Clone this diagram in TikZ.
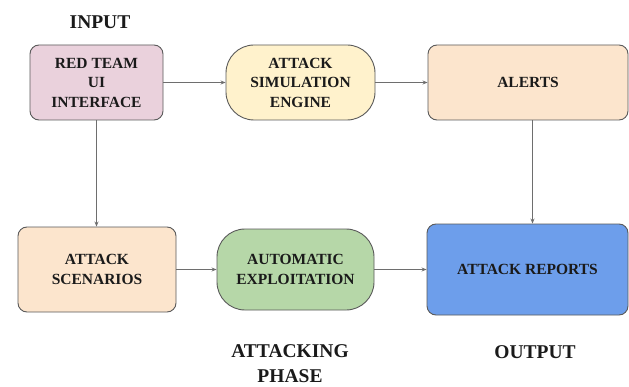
\documentclass[tikz,border=0pt]{standalone}
\usepackage{fontspec}
\setmainfont{Liberation Serif}[BoldFont={Liberation Serif Bold}]
\newfontfamily\boxfont{Liberation Serif Bold}
\usetikzlibrary{arrows.meta}
\definecolor{pinkfill}{HTML}{EAD1DC}
\definecolor{yellowfill}{HTML}{FFF2CC}
\definecolor{orangefill}{HTML}{FCE5CD}
\definecolor{greenfill}{HTML}{B6D7A8}
\definecolor{bluefill}{HTML}{6D9EEB}
\definecolor{edgegray}{HTML}{5A5A5A}
\definecolor{arrowgray}{HTML}{6E6E6E}
\definecolor{textdark}{HTML}{1A1A1A}
\tikzset{
  box/.style={draw=edgegray, line width=0.9pt, rounded corners=9pt, align=center,
    font=\boxfont\fontsize{15.5}{19.5}\selectfont, text=textdark, inner sep=2pt},
  stadium/.style={box, rounded corners=28pt},
  title/.style={align=center, font=\boxfont\fontsize{19.5}{25}\selectfont, text=textdark},
  conn/.style={draw=arrowgray, line width=0.8pt, -{Stealth[length=5pt,width=4pt]}}
}
\begin{document}
\begin{tikzpicture}[x=1pt,y=1pt]
\useasboundingbox[fill=white] (0,0) rectangle (629,386);
\node[title] (input) at (100,364) {INPUT};
\node[box, fill=pinkfill, minimum width=133pt, minimum height=75pt] (redteam) at (96.5,303.5) {RED TEAM\\UI\\INTERFACE};
\node[stadium, fill=yellowfill, minimum width=149pt, minimum height=75pt] (sim) at (300.5,303.5) {ATTACK\\SIMULATION\\ENGINE};
\node[box, fill=orangefill, minimum width=200pt, minimum height=75pt] (alerts) at (528,303.5) {ALERTS};
\node[box, fill=orangefill, minimum width=158pt, minimum height=85pt] (scen) at (97,116.5) {ATTACK\\SCENARIOS};
\node[stadium, fill=greenfill, minimum width=157pt, minimum height=81pt] (auto) at (295.5,116.5) {AUTOMATIC\\EXPLOITATION};
\node[box, fill=bluefill, minimum width=201pt, minimum height=91pt] (reports) at (527.5,116.5) {ATTACK REPORTS};
\node[title] (phase) at (290,22.5) {ATTACKING\\PHASE};
\node[title] (output) at (535,34) {OUTPUT};
\draw[conn] (redteam.east) -- (sim.west);
\draw[conn] (sim.east) -- (alerts.west);
\draw[conn] (redteam.south) -- (scen.north -| redteam.south);
\draw[conn] ([xshift=4.5pt]alerts.south) -- ([xshift=4.5pt]alerts.south |- reports.north);
\draw[conn] (scen.east) -- (auto.west);
\draw[conn] (auto.east) -- (reports.west);
\end{tikzpicture}
\end{document}
